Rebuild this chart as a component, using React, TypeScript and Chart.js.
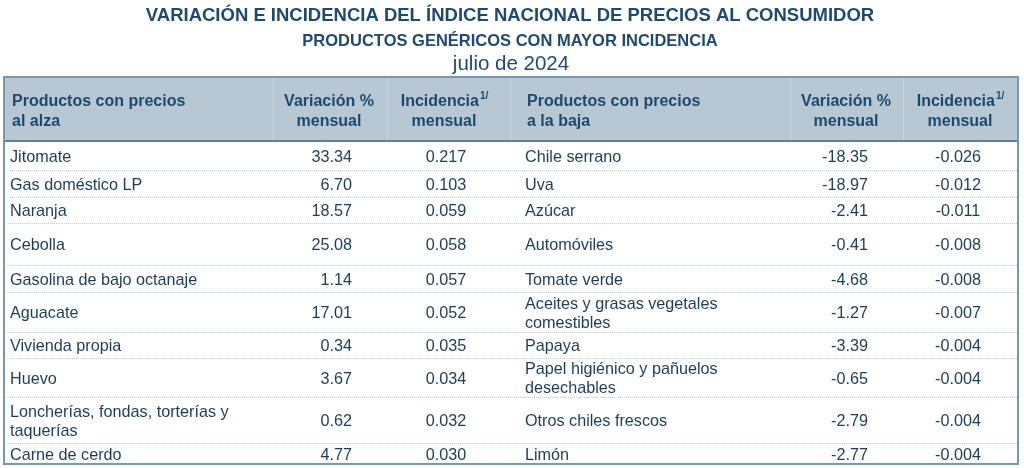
import React, { useEffect, useRef } from "react";
import { Chart, registerables } from "chart.js";

Chart.register(...registerables);

// ---------- text & data ----------
const titulo = "VARIACIÓN E INCIDENCIA DEL ÍNDICE NACIONAL DE PRECIOS AL CONSUMIDOR";
const subtitulo = "PRODUCTOS GENÉRICOS CON MAYOR INCIDENCIA";
const periodo = "julio de 2024";

const encabezadoAlza = ["Productos con precios", "al alza"];
const encabezadoBaja = ["Productos con precios", "a la baja"];
const encabezadoVariacion = ["Variación %", "mensual"];
const encabezadoIncidencia = ["Incidencia", "mensual"];
const notaIncidencia = "1/";

const alzaProductos = [
  "Jitomate",
  "Gas doméstico LP",
  "Naranja",
  "Cebolla",
  "Gasolina de bajo octanaje",
  "Aguacate",
  "Vivienda propia",
  "Huevo",
  "Loncherías, fondas, torterías y taquerías",
  "Carne de cerdo",
];
const alzaVariacion = [33.34, 6.7, 18.57, 25.08, 1.14, 17.01, 0.34, 3.67, 0.62, 4.77];
const alzaIncidencia = [0.217, 0.103, 0.059, 0.058, 0.057, 0.052, 0.035, 0.034, 0.032, 0.03];

const bajaProductos = [
  "Chile serrano",
  "Uva",
  "Azúcar",
  "Automóviles",
  "Tomate verde",
  "Aceites y grasas vegetales comestibles",
  "Papaya",
  "Papel higiénico y pañuelos desechables",
  "Otros chiles frescos",
  "Limón",
];
const bajaVariacion = [-18.35, -18.97, -2.41, -0.41, -4.68, -1.27, -3.39, -0.65, -2.79, -2.77];
const bajaIncidencia = [-0.026, -0.012, -0.011, -0.008, -0.008, -0.007, -0.004, -0.004, -0.004, -0.004];

// ---------- layout (table units) ----------
const TABLE_W = 1014;
const TABLE_H = 387;
const HEADER_H = 64;
const ROW_BOUNDS = [64, 93, 120, 146, 188, 215, 255, 281, 320, 366, 387];
const HEADER_DIVIDERS = [269, 383, 506, 786, 899];

const FONT = '"Liberation Sans", Arial, Helvetica, sans-serif';
const TITLE_COLOR = "#1f4a70";
const HEADER_TEXT = "#1d4a6c";
const BODY_TEXT = "#1e3c57";
const HEADER_BG = "#b7c8d4";
const BORDER = "#7897b0";

function wrap(ctx: CanvasRenderingContext2D, text: string, maxW: number): string[] {
  const words = text.split(" ");
  const lines: string[] = [];
  let cur = "";
  for (const w of words) {
    const t = cur ? cur + " " + w : w;
    if (ctx.measureText(t).width > maxW && cur) {
      lines.push(cur);
      cur = w;
    } else cur = t;
  }
  if (cur) lines.push(cur);
  return lines;
}

const tablePlugin = {
  id: "tabla",
  beforeDraw(chart: any) {
    const ctx: CanvasRenderingContext2D = chart.ctx;
    const xs = chart.scales.x;
    const ys = chart.scales.y;
    const X = (v: number) => xs.getPixelForValue(v);
    const Y = (v: number) => ys.getPixelForValue(v);
    const cx = chart.width / 2 - 2;

    ctx.save();
    ctx.fillStyle = "#ffffff";
    ctx.fillRect(0, 0, chart.width, chart.height);

    // titles
    ctx.textAlign = "center";
    ctx.textBaseline = "middle";
    ctx.fillStyle = TITLE_COLOR;
    ctx.font = `bold 18.5px ${FONT}`;
    ctx.fillText(titulo, cx, 16);
    ctx.font = `bold 16.5px ${FONT}`;
    ctx.fillText(subtitulo, cx, 41);
    ctx.font = `20.5px ${FONT}`;
    ctx.fillText(periodo, cx + 1, 64);

    // header background
    ctx.fillStyle = HEADER_BG;
    ctx.fillRect(X(0), Y(0), X(TABLE_W) - X(0), Y(HEADER_H) - Y(0));

    // faint header dividers
    ctx.strokeStyle = "#c6d4de";
    ctx.lineWidth = 1;
    for (const d of HEADER_DIVIDERS) {
      ctx.beginPath();
      ctx.moveTo(Math.round(X(d)) + 0.5, Y(0));
      ctx.lineTo(Math.round(X(d)) + 0.5, Y(HEADER_H));
      ctx.stroke();
    }

    // row separators (dotted)
    ctx.strokeStyle = "#c3ccd5";
    ctx.setLineDash([1, 1]);
    for (let i = 1; i < ROW_BOUNDS.length - 1; i++) {
      const y = Math.round(Y(ROW_BOUNDS[i])) + 0.5;
      ctx.beginPath();
      ctx.moveTo(X(0), y);
      ctx.lineTo(X(TABLE_W), y);
      ctx.stroke();
    }
    ctx.setLineDash([]);

    // header bottom line
    ctx.strokeStyle = "#5e7f99";
    ctx.lineWidth = 2;
    ctx.beginPath();
    ctx.moveTo(X(0), Y(HEADER_H));
    ctx.lineTo(X(TABLE_W), Y(HEADER_H));
    ctx.stroke();

    // outer border
    ctx.strokeStyle = BORDER;
    ctx.lineWidth = 2;
    ctx.strokeRect(X(0), Y(0), X(TABLE_W) - X(0), Y(TABLE_H) - Y(0));

    // header text
    ctx.fillStyle = HEADER_TEXT;
    ctx.font = `bold 16px ${FONT}`;
    const hy = [Y(25), Y(45)];
    const drawLines = (lines: string[], x: number, align: CanvasTextAlign) => {
      ctx.textAlign = align;
      lines.forEach((l, i) => ctx.fillText(l, x, hy[i]));
    };
    drawLines(encabezadoAlza, X(8), "left");
    drawLines(encabezadoBaja, X(523), "left");
    drawLines(encabezadoVariacion, X(325), "center");
    drawLines(encabezadoVariacion, X(842), "center");
    const drawInc = (center: number) => {
      ctx.font = `bold 16px ${FONT}`;
      const w1 = ctx.measureText(encabezadoIncidencia[0]).width;
      ctx.font = `bold 10px ${FONT}`;
      const w2 = ctx.measureText(notaIncidencia).width;
      const start = center - (w1 + w2) / 2;
      ctx.textAlign = "left";
      ctx.font = `bold 16px ${FONT}`;
      ctx.fillText(encabezadoIncidencia[0], start, hy[0]);
      ctx.font = `bold 10px ${FONT}`;
      ctx.fillText(notaIncidencia, start + w1 + 1, hy[0] - 6);
      ctx.font = `bold 16px ${FONT}`;
      ctx.textAlign = "center";
      ctx.fillText(encabezadoIncidencia[1], center, hy[1]);
    };
    drawInc(X(440));
    drawInc(X(956));

    // body
    ctx.fillStyle = BODY_TEXT;
    ctx.font = `16.2px ${FONT}`;
    const LINE = 19;
    for (let i = 0; i < alzaProductos.length; i++) {
      const yc = Y((ROW_BOUNDS[i] + ROW_BOUNDS[i + 1]) / 2) + 2;
      const drawWrapped = (text: string, x: number) => {
        const lines = wrap(ctx, text, 240);
        ctx.textAlign = "left";
        const y0 = yc - ((lines.length - 1) * LINE) / 2;
        lines.forEach((l, k) => ctx.fillText(l, x, y0 + k * LINE));
      };
      drawWrapped(alzaProductos[i], X(6));
      drawWrapped(bajaProductos[i], X(521));
      ctx.textAlign = "right";
      ctx.fillText(alzaVariacion[i].toFixed(2), X(348), yc);
      ctx.fillText(bajaVariacion[i].toFixed(2), X(864), yc);
      ctx.textAlign = "center";
      ctx.fillText(alzaIncidencia[i].toFixed(3), X(442), yc);
      ctx.fillText(bajaIncidencia[i].toFixed(3), X(954), yc);
    }
    ctx.restore();
  },
};

export default function App() {
  const ref = useRef<HTMLCanvasElement | null>(null);
  useEffect(() => {
    if (!ref.current) return;
    const chart = new Chart(ref.current, {
      type: "scatter",
      data: { datasets: [] },
      options: {
        animation: false,
        responsive: false,
        maintainAspectRatio: false,
        devicePixelRatio: 1,
        layout: { padding: { left: 4, right: 6, top: 77, bottom: 4 } },
        plugins: { legend: { display: false }, tooltip: { enabled: false }, title: { display: false } },
        scales: {
          x: { type: "linear", min: 0, max: TABLE_W, display: false },
          y: { type: "linear", min: 0, max: TABLE_H, reverse: true, display: false },
        },
      },
      plugins: [tablePlugin],
    });
    return () => chart.destroy();
  }, []);
  return (
    <div style={{ position: "absolute", left: 0, top: 0, width: 1024, height: 468 }}>
      <canvas ref={ref} width={1024} height={468} style={{ display: "block" }} />
    </div>
  );
}
